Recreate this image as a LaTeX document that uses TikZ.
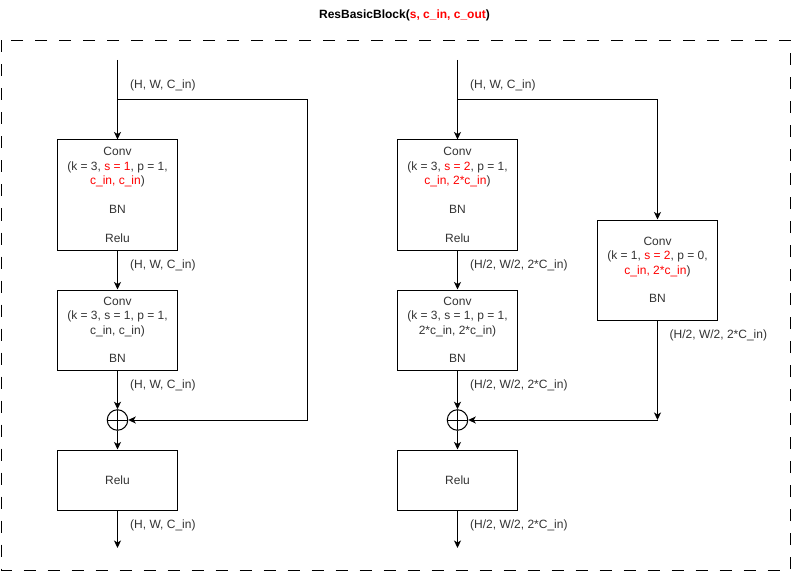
\documentclass[tikz,border=0pt]{standalone}
\usepackage{fontspec}
\setmainfont{Liberation Sans}
\usetikzlibrary{arrows.meta}
\definecolor{txtgray}{HTML}{333333}
\definecolor{hlred}{HTML}{FF0000}
\newcommand{\hl}[1]{\textcolor{hlred}{#1}}
\tikzset{
  block/.style={draw, line width=1pt, minimum width=120pt, align=center,
    inner sep=0pt, text=txtgray, font=\fontsize{12}{14.4}\selectfont},
  dimlabel/.style={anchor=west, inner sep=0pt, text=txtgray,
    font=\fontsize{12}{14.4}\selectfont},
  sumnode/.style={draw, circle, line width=1pt, minimum size=20.5pt, inner sep=0pt,
    path picture={\draw[line width=1pt] (path picture bounding box.north) -- (path picture bounding box.south)
      (path picture bounding box.west) -- (path picture bounding box.east);}},
  flow/.style={line width=1pt, -{Stealth[length=7.5pt,width=7pt,inset=2pt]}}
}
\begin{document}
\begin{tikzpicture}[x=1pt,y=-1pt]
  \useasboundingbox (0,0) rectangle (792,572);
  % Title and frame
  \node[font=\fontsize{12}{14.4}\selectfont\bfseries] (title) at (404.5,15)
    {ResBasicBlock(\hl{s, c\_in, c\_out})};
  \draw[line width=1pt, dash pattern=on 12pt off 12pt] (1,40.5) rectangle (790.5,570);

  % Left column: identity shortcut
  \coordinate (inL) at (117.5,60);
  \coordinate (splitL) at (117.5,100);
  \node[block, minimum height=110pt] (convL1) at (117.5,195)
    {Conv\\(k = 3, \hl{s = 1}, p = 1,\\\hl{c\_in, c\_in})\\[14.4pt]BN\\[14.4pt]Relu};
  \node[block, minimum height=80pt] (convL2) at (117.5,330)
    {Conv\\(k = 3, s = 1, p = 1,\\c\_in, c\_in)\\[14.4pt]BN};
  \node[sumnode] (addL) at (117.5,420) {};
  \node[block, minimum height=60pt] (reluL) at (117.5,480) {Relu};
  \coordinate (outL) at (117.5,548);
  \coordinate (skipL1) at (307,100);
  \coordinate (skipL2) at (307,420);

  \draw[flow] (inL) -- (convL1);
  \draw[flow] (splitL) -- (skipL1) -- (skipL2) -- (addL);
  \draw[flow] (convL1) -- (convL2);
  \draw[flow] (convL2) -- (addL);
  \draw[flow] (addL) -- (reluL);
  \draw[flow] (reluL) -- (outL);

  \node[dimlabel] (dimL0) at (130,85) {(H, W, C\_in)};
  \node[dimlabel] (dimL1) at (130,265) {(H, W, C\_in)};
  \node[dimlabel] (dimL2) at (130,385) {(H, W, C\_in)};
  \node[dimlabel] (dimL3) at (130,525) {(H, W, C\_in)};

  % Right column: downsampling shortcut
  \coordinate (inR) at (457.5,60);
  \coordinate (splitR) at (457.5,100);
  \node[block, minimum height=110pt] (convR1) at (457.5,195)
    {Conv\\(k = 3, \hl{s = 2}, p = 1,\\\hl{c\_in, 2*c\_in})\\[14.4pt]BN\\[14.4pt]Relu};
  \node[block, minimum height=80pt] (convR2) at (457.5,330)
    {Conv\\(k = 3, s = 1, p = 1,\\2*c\_in, 2*c\_in)\\[14.4pt]BN};
  \node[sumnode] (addR) at (457.5,420) {};
  \node[block, minimum height=60pt] (reluR) at (457.5,480) {Relu};
  \coordinate (outR) at (457.5,548);
  \coordinate (cornerR) at (657.5,100);
  \node[block, minimum height=100pt] (convR3) at (657.5,270)
    {Conv\\(k = 1, \hl{s = 2}, p = 0,\\\hl{c\_in, 2*c\_in})\\[14.4pt]BN};
  \coordinate (joinR) at (657.5,420);

  \draw[flow] (inR) -- (convR1);
  \draw[flow] (splitR) -- (cornerR) -- (convR3);
  \draw[flow] (convR3) -- (joinR);
  \draw[flow] (joinR) -- (addR);
  \draw[flow] (convR1) -- (convR2);
  \draw[flow] (convR2) -- (addR);
  \draw[flow] (addR) -- (reluR);
  \draw[flow] (reluR) -- (outR);

  \node[dimlabel] (dimR0) at (470,85) {(H, W, C\_in)};
  \node[dimlabel] (dimR1) at (470,265) {(H/2, W/2, 2*C\_in)};
  \node[dimlabel] (dimR2) at (470,385) {(H/2, W/2, 2*C\_in)};
  \node[dimlabel] (dimR3) at (470,525) {(H/2, W/2, 2*C\_in)};
  \node[dimlabel] (dimR4) at (669.5,335) {(H/2, W/2, 2*C\_in)};
\end{tikzpicture}
\end{document}
